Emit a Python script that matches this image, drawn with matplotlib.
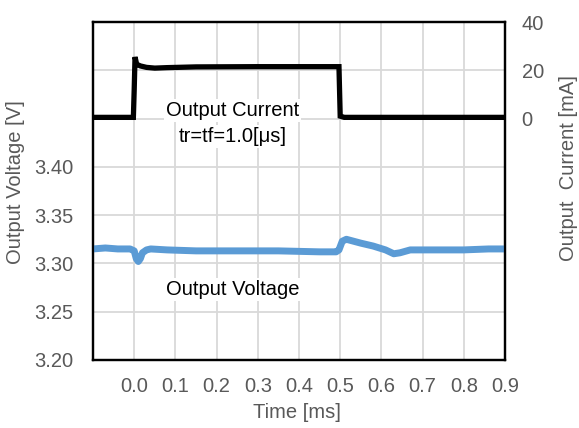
import matplotlib
matplotlib.use('Agg')
import matplotlib.pyplot as plt

plt.rcParams['font.family'] = ['Liberation Sans', 'DejaVu Sans']

# Output voltage trace [ms, V]
t_volt = [-0.10, -0.07, -0.04, -0.01, 0.000, 0.005, 0.010, 0.015, 0.020, 0.030, 0.040,
          0.08, 0.15, 0.25, 0.35, 0.45, 0.490, 0.497, 0.505, 0.515, 0.55, 0.58,
          0.61, 0.630, 0.645, 0.67, 0.72, 0.80, 0.86, 0.90]
v_out = [3.315, 3.316, 3.315, 3.315, 3.313, 3.305, 3.302, 3.305, 3.311, 3.314, 3.315,
         3.314, 3.313, 3.313, 3.313, 3.312, 3.312, 3.314, 3.323, 3.325, 3.321, 3.318,
         3.314, 3.310, 3.311, 3.314, 3.314, 3.314, 3.315, 3.315]

# Output current trace [ms, mA]
t_cur = [-0.10, -0.002, 0.000, 0.002, 0.006, 0.015, 0.03, 0.05, 0.08, 0.15, 0.30,
         0.45, 0.497, 0.500, 0.510, 0.60, 0.90]
i_out = [0.5, 0.5, 12.0, 25.5, 22.5, 21.8, 21.2, 20.9, 21.1, 21.4, 21.5,
         21.5, 21.5, 1.0, 0.5, 0.5, 0.5]

x_ticks = [0.0, 0.1, 0.2, 0.3, 0.4, 0.5, 0.6, 0.7, 0.8, 0.9]
v_ticks = [3.20, 3.25, 3.30, 3.35, 3.40, 3.45, 3.50, 3.55]
v_labels = ['3.20', '3.25', '3.30', '3.35', '3.40', '', '', '']
i_ticks = [-100, -80, -60, -40, -20, 0, 20, 40]
i_labels = ['', '', '', '', '', '0', '20', '40']

gray = '#595959'
grid = '#D9D9D9'
fs = 14.5

fig = plt.figure(figsize=(5.79, 4.28), dpi=100)
ax = fig.add_axes([93 / 579, 1 - 360 / 428, 412 / 579, 338 / 428])
ax2 = ax.twinx()

ax.plot(t_volt, v_out, color='#5B9BD5', lw=5, solid_joinstyle='round', zorder=3)
ax2.plot(t_cur, i_out, color='black', lw=3.8, solid_joinstyle='miter', zorder=3)

ax.set_xlim(-0.1, 0.9)
ax.set_ylim(3.20, 3.55)
ax2.set_ylim(-100, 40)

ax.set_xticks([-0.1] + x_ticks)
ax.set_xticklabels([''] + [f'{x:.1f}' for x in x_ticks])
ax.set_yticks(v_ticks)
ax.set_yticklabels(v_labels)
ax2.set_yticks(i_ticks)
ax2.set_yticklabels(i_labels)

ax.grid(True, color=grid, lw=1.3, zorder=0)
ax.set_axisbelow(True)

ax.tick_params(axis='both', length=0, labelsize=fs, labelcolor=gray)
ax.tick_params(axis='y', pad=14)
ax.tick_params(axis='x', pad=12)
ax2.tick_params(axis='y', length=0, labelsize=fs, labelcolor=gray, pad=12)

for a in (ax, ax2):
    for s in a.spines.values():
        s.set_color('black')
        s.set_linewidth(1.6)

ax.set_xlabel('Time [ms]', fontsize=fs, color=gray)
ax.set_ylabel('Output Voltage [V]', fontsize=fs, color=gray)
ax2.set_ylabel('Output  Current [mA]', fontsize=fs, color=gray)
ax.xaxis.set_label_coords(0.495, -0.128)
ax.yaxis.set_label_coords(-0.165, 0.527)
ax2.yaxis.set_label_coords(1.132, 0.568)

# annotation boxes hide the grid behind the text
box = dict(facecolor='white', edgecolor='none', pad=1.5)
ax.text(0.238, 3.4585, 'Output Current', fontsize=fs, ha='center', va='center',
        color='black', bbox=box, zorder=2)
ax.text(0.238, 3.4318, 'tr=tf=1.0[μs]', fontsize=fs, ha='center', va='center',
        color='black', bbox=box, zorder=2)
ax.text(0.24, 3.2728, 'Output Voltage', fontsize=fs, ha='center', va='center',
        color='black', bbox=box, zorder=2)

fig.savefig('out.png', dpi=100)
